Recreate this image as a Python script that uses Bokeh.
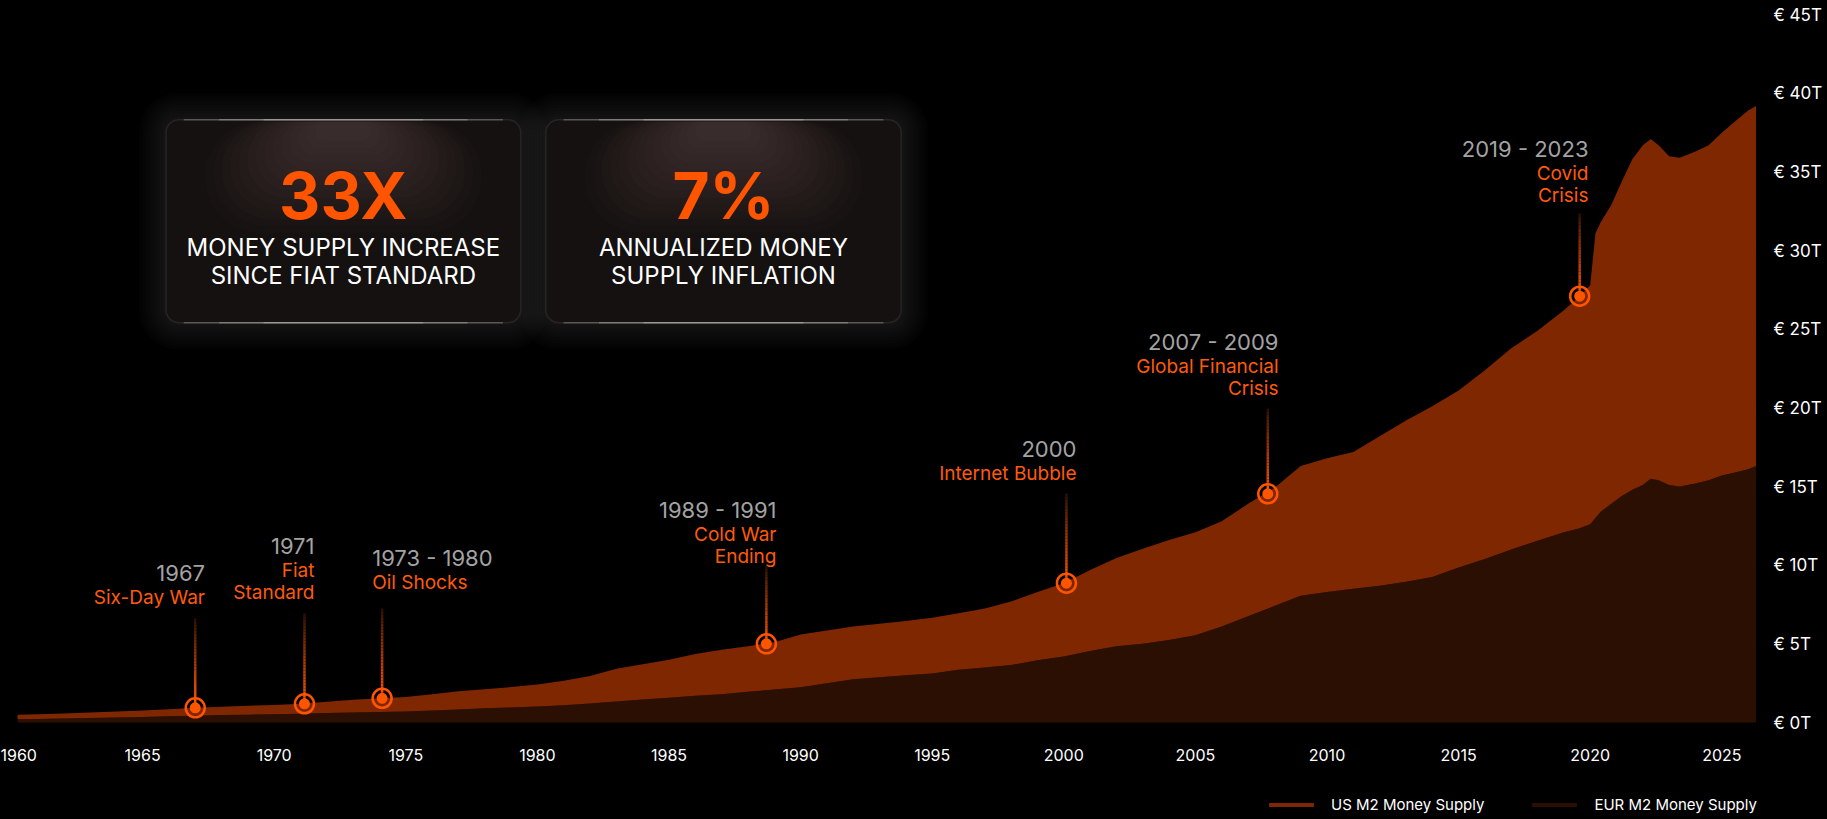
from bokeh.plotting import figure
from bokeh.models import (Range1d, FixedTicker, PrintfTickFormatter, Legend, LegendItem,
                          BoxAnnotation, Label, ColumnDataSource, GlobalInlineStyleSheet)
from bokeh.embed import file_html
from bokeh.resources import INLINE

# ---------------- data (trillions) ----------------
years = [1960.25, 1961, 1962, 1963, 1964, 1965, 1966, 1967, 1968, 1969,
         1970, 1971, 1972, 1973, 1974, 1975, 1976, 1977, 1978, 1979,
         1980, 1981, 1982, 1983, 1984, 1985, 1986, 1987, 1988, 1989,
         1990, 1991, 1992, 1993, 1994, 1995, 1996, 1997, 1998, 1999,
         2000, 2001, 2002, 2003, 2004, 2005, 2006, 2007, 2008, 2009,
         2010, 2011, 2012, 2013, 2014, 2015, 2016, 2017, 2018, 2019,
         2019.6, 2020.0, 2020.2, 2020.4, 2020.8, 2021.2, 2021.6, 2022.0, 2022.3, 2022.6,
         2023.0, 2023.4, 2024.0, 2024.5, 2025.0, 2025.5, 2026.0, 2026.3]
eur_m2 = [0.21, 0.23, 0.26, 0.29, 0.32, 0.35, 0.39, 0.43, 0.47, 0.50,
          0.53, 0.56, 0.60, 0.63, 0.66, 0.70, 0.76, 0.82, 0.90, 0.96,
          1.02, 1.10, 1.20, 1.33, 1.47, 1.58, 1.70, 1.80, 1.95, 2.10,
          2.24, 2.50, 2.75, 2.88, 3.00, 3.12, 3.35, 3.50, 3.65, 3.95,
          4.20, 4.55, 4.85, 5.00, 5.25, 5.55, 6.10, 6.75, 7.40, 8.05,
          8.30, 8.50, 8.70, 8.95, 9.25, 9.85, 10.40, 11.00, 11.55, 12.10,
          12.35, 12.60, 13.00, 13.40, 13.90, 14.40, 14.80, 15.10, 15.50, 15.40,
          15.10, 15.00, 15.20, 15.40, 15.70, 15.90, 16.10, 16.30]
us_m2 = [0.28, 0.30, 0.32, 0.35, 0.38, 0.42, 0.45, 0.50, 0.53, 0.56,
         0.59, 0.63, 0.72, 0.82, 0.88, 0.92, 1.04, 1.17, 1.22, 1.29,
         1.40, 1.55, 1.75, 2.08, 2.23, 2.41, 2.65, 2.82, 2.90, 3.00,
         3.35, 3.35, 3.35, 3.39, 3.45, 3.54, 3.60, 3.75, 4.05, 4.35,
         4.66, 5.15, 5.60, 6.04, 6.35, 6.55, 6.70, 7.15, 7.50, 8.25,
         8.50, 8.70, 9.50, 10.25, 10.85, 11.25, 12.00, 12.80, 13.35, 14.10,
         14.75, 15.20, 18.10, 18.40, 19.00, 20.00, 21.00, 21.60, 21.60, 21.30,
         20.90, 20.90, 21.10, 21.30, 21.80, 22.30, 22.80, 22.90]

x_ticks = [1960, 1965, 1970, 1975, 1980, 1985, 1990, 1995, 2000, 2005, 2010, 2015, 2020, 2025]
y_ticks = [0, 5, 10, 15, 20, 25, 30, 35, 40, 45]
legend_labels = ["US M2 Money Supply", "EUR M2 Money Supply"]

event_years = [1967.0, 1971.15, 1974.1, 1988.7, 2000.1, 2007.75, 2019.6]
event_values = [0.93, 1.19, 1.54, 5.0, 8.86, 14.54, 27.1]
event_dates = ["1967", "1971", "1973 - 1980", "1989 - 1991", "2000", "2007 - 2009", "2019 - 2023"]
event_names = [["Six-Day War"], ["Fiat", "Standard"], ["Oil Shocks"], ["Cold War", "Ending"],
               ["Internet Bubble"], ["Global Financial", "Crisis"], ["Covid", "Crisis"]]

stat_values = ["33X", "7%"]
stat_texts = [["MONEY SUPPLY INCREASE", "SINCE FIAT STANDARD"],
              ["ANNUALIZED MONEY", "SUPPLY INFLATION"]]

# ---------------- styles / layout ----------------
US_COLOR = "#7F2700"
EUR_COLOR = "#2C0F03"
ORANGE = "#FF5500"
LABEL_ORANGE = "#FF5A0A"
GREY = "#A3A3A3"
FONT = "Inter"

# pixel -> data helpers for placing decorations (canvas at page 0,0)
def px_x(px):
    return 1960 + (px - 10.5) / 26.32

def px_y(py):
    return (722 - py) / 15.73

# event label layout: (align, text x px, year-line centre y px, connector top y px)
event_layout = [("right", 204.5, 572.7, 618), ("right", 314, 545, 613), ("left", 371.7, 557.3, 608),
                ("right", 776, 509, 566), ("right", 1076, 448, 493), ("right", 1278, 341.4, 408),
                ("right", 1588, 148, 213)]
boxes_px = [(165.5, 119.2, 520.2, 322.2), (545.3, 119.2, 900.7, 322.2)]

FRAME_W = 1766
p = figure(frame_width=FRAME_W, frame_height=819,
           x_range=Range1d(px_x(0), px_x(FRAME_W)), y_range=Range1d(px_y(819), px_y(0)),
           y_axis_location="right", output_backend="svg", toolbar_location=None,
           background_fill_color="black", border_fill_color="black", outline_line_color=None,
           min_border_left=0, min_border_top=0, min_border_right=0, min_border_bottom=0,
           title=None)
p.stylesheets = [GlobalInlineStyleSheet(css="html, body { background: #000000; }")]
p.grid.visible = False

# axes (x axis pinned at the zero line, legend sits below it inside the frame)
p.xaxis.ticker = FixedTicker(ticks=x_ticks)
p.xaxis.formatter = PrintfTickFormatter(format="%d")
p.xaxis.fixed_location = 0
p.yaxis.ticker = FixedTicker(ticks=y_ticks)
p.yaxis.formatter = PrintfTickFormatter(format="€ %dT")
for ax in (p.xaxis[0], p.yaxis[0]):
    ax.axis_line_color = None
    ax.major_tick_line_color = None
    ax.minor_tick_line_color = None
    ax.major_tick_out = 0
    ax.major_tick_in = 0
    ax.major_label_text_color = "white"
    ax.major_label_text_font = FONT
p.xaxis.major_label_text_font_size = "16px"
p.xaxis.major_label_standoff = 26
p.yaxis.major_label_text_font_size = "17px"
p.yaxis.major_label_standoff = 7

# stacked areas
src = ColumnDataSource(dict(year=years, eur=eur_m2, us=us_m2))
r_eur, r_us = p.varea_stack(stackers=["eur", "us"], x="year", color=[EUR_COLOR, US_COLOR], source=src)

legend = Legend(items=[LegendItem(label=legend_labels[0], renderers=[r_us]),
                       LegendItem(label=legend_labels[1], renderers=[r_eur])],
                orientation="horizontal", location=(1263, 5),
                glyph_width=56, glyph_height=5, label_standoff=12, spacing=42,
                padding=0, margin=0, label_height=16,
                background_fill_alpha=0, border_line_alpha=0,
                label_text_color="white", label_text_font=FONT, label_text_font_size="15px")
p.add_layout(legend)

# connectors with gradient
def lerp_color(c0, c1, t):
    return "#%02x%02x%02x" % tuple(int(round(a + (b - a) * t)) for a, b in zip(c0, c1))

seg = dict(x0=[], y0=[], x1=[], y1=[], c=[])
N = 30
for ex, ev, lay in zip(event_years, event_values, event_layout):
    top = px_y(lay[3])
    for i in range(N):
        ya = top + (ev - top) * i / N
        yb = top + (ev - top) * (i + 1) / N
        t = ((i + 0.5) / N) ** 0.8
        seg["x0"].append(ex); seg["x1"].append(ex)
        seg["y0"].append(ya); seg["y1"].append(yb)
        seg["c"].append(lerp_color((35, 14, 5), (255, 85, 0), t))
p.segment(x0="x0", y0="y0", x1="x1", y1="y1", line_color="c", line_width=2.5,
          source=ColumnDataSource(seg))

ev_src = ColumnDataSource(dict(x=event_years, y=event_values))
p.scatter(x="x", y="y", source=ev_src, size=19, fill_alpha=0, line_color=ORANGE, line_width=2.5)
p.scatter(x="x", y="y", source=ev_src, size=11, fill_color=ORANGE, line_color=None)

# event labels
for date, names, lay in zip(event_dates, event_names, event_layout):
    align, tx, ty, _ = lay
    p.add_layout(Label(x=px_x(tx), y=px_y(ty), text=date, text_align=align, text_baseline="middle",
                       text_font=FONT, text_font_size="22px", text_color=GREY))
    for j, nm in enumerate(names):
        yy = ty + 24.5 + 22.5 * j
        p.add_layout(Label(x=px_x(tx), y=px_y(yy), text=nm, text_align=align, text_baseline="middle",
                           text_font=FONT, text_font_size="19px", text_color=LABEL_ORANGE))

# stat boxes: outer glow
for (l, t, r, b) in boxes_px:
    for k in range(9, 0, -1):
        e = 3 * k
        p.add_layout(BoxAnnotation(left=px_x(l - e), right=px_x(r + e), top=px_y(t - e), bottom=px_y(b + e),
                                   fill_color="#ffffff", fill_alpha=0.011, line_color=None,
                                   border_radius=int(12 + e)))
# box body, inner top glow, edge highlights
for (l, t, r, b) in boxes_px:
    p.add_layout(BoxAnnotation(left=px_x(l), right=px_x(r), top=px_y(t), bottom=px_y(b),
                               fill_color="#141110", fill_alpha=1.0, line_color="#57524e",
                               line_width=1.5, border_radius=13))
    bw, bh = r - l, b - t
    cx = (l + r) / 2
    for k in range(14):
        f = k / 13.0
        w = bw * (0.78 - 0.62 * f)
        h = bh * (0.55 - 0.45 * f)
        p.add_layout(BoxAnnotation(left=px_x(cx - w / 2), right=px_x(cx + w / 2),
                                   top=px_y(t + 1.5), bottom=px_y(t + 1.5 + h),
                                   fill_color="#9a928c", fill_alpha=0.022, line_color=None,
                                   border_radius=int(min(w, h) / 2)))
    for edge in (t, b):
        for frac in (0.9, 0.7, 0.45):
            w = bw * frac
            p.add_layout(BoxAnnotation(left=px_x(cx - w / 2), right=px_x(cx + w / 2),
                                       top=px_y(edge - 0.8), bottom=px_y(edge + 0.8),
                                       fill_color="#e0dad4", fill_alpha=0.28, line_color=None))

for (l, t, r, b), val, lines in zip(boxes_px, stat_values, stat_texts):
    cx = (l + r) / 2
    p.add_layout(Label(x=px_x(cx), y=px_y(194.6), text=val, text_align="center", text_baseline="middle",
                       text_font=FONT, text_font_style="bold", text_font_size="64px", text_color=ORANGE))
    for j, ln in enumerate(lines):
        p.add_layout(Label(x=px_x(cx), y=px_y(247 + 28 * j), text=ln, text_align="center",
                           text_baseline="middle", text_font=FONT, text_font_size="24px",
                           text_color="white"))

open("out.html", "w").write(file_html(p, INLINE))
